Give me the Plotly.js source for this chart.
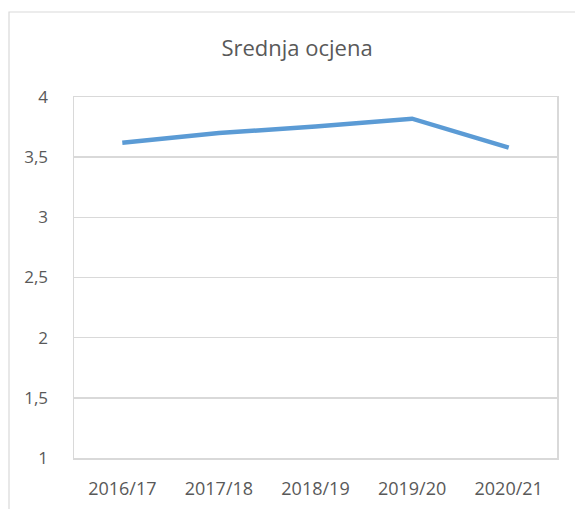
<!DOCTYPE html>
<html>
<head>
<meta charset="utf-8">
<script src="https://cdn.plot.ly/plotly-3.0.1.min.js"></script>
<style>
html,body{margin:0;padding:0;background:#fff;}
#chart{width:575px;height:509px;}
</style>
</head>
<body>
<div id="chart"></div>
<script>
const categories = ["2016/17", "2017/18", "2018/19", "2019/20", "2020/21"];
const values = [3.62, 3.70, 3.755, 3.82, 3.58];
const titleText = "Srednja ocjena";
const yTicks = [1, 1.5, 2, 2.5, 3, 3.5, 4];

const W = 575, H = 509;
const L = 74, R = 557, T = 97, B = 458;
const pw = R - L, ph = B - T;
const gray = "#d9d9d9";
const textColor = "#595959";
const fontFam = "Open Sans, sans-serif";

const trace = {
  x: categories,
  y: values,
  type: "scatter",
  mode: "lines",
  line: {color: "#5b9bd5", width: 4.5, shape: "linear"},
  hoverinfo: "skip"
};

const layout = {
  width: W, height: H,
  margin: {l: L, r: W - R, t: T, b: H - B, pad: 0},
  paper_bgcolor: "#ffffff",
  plot_bgcolor: "#ffffff",
  separators: ", ",
  showlegend: false,
  title: {
    text: titleText,
    font: {family: fontFam, size: 22, color: textColor},
    xref: "container", yref: "container",
    x: 297 / W, xanchor: "center",
    y: 1 - 48 / H, yanchor: "middle"
  },
  xaxis: {
    type: "category",
    range: [-0.5, categories.length - 0.5],
    showgrid: false,
    zeroline: false,
    showline: true, linecolor: gray, linewidth: 1.5, mirror: true,
    ticks: "",
    ticklabelstandoff: 14,
    tickfont: {family: fontFam, size: 18, color: textColor},
    fixedrange: true
  },
  yaxis: {
    range: [1, 4],
    tickvals: yTicks,
    showgrid: true, gridcolor: gray, gridwidth: 1.5,
    zeroline: false,
    showline: true, linecolor: gray, linewidth: 1.5, mirror: true,
    ticks: "",
    ticklabelstandoff: 21,
    tickfont: {family: fontFam, size: 17, color: textColor},
    fixedrange: true
  },
  shapes: [{
    type: "rect", xref: "paper", yref: "paper",
    x0: (9 - L) / pw, x1: (600 - L) / pw,
    y0: (B - 530) / ph, y1: (B - 12) / ph,
    line: {color: gray, width: 1.2},
    fillcolor: "rgba(0,0,0,0)",
    layer: "below"
  }]
};

Plotly.newPlot("chart", [trace], layout, {displayModeBar: false, staticPlot: true});
</script>
</body>
</html>
